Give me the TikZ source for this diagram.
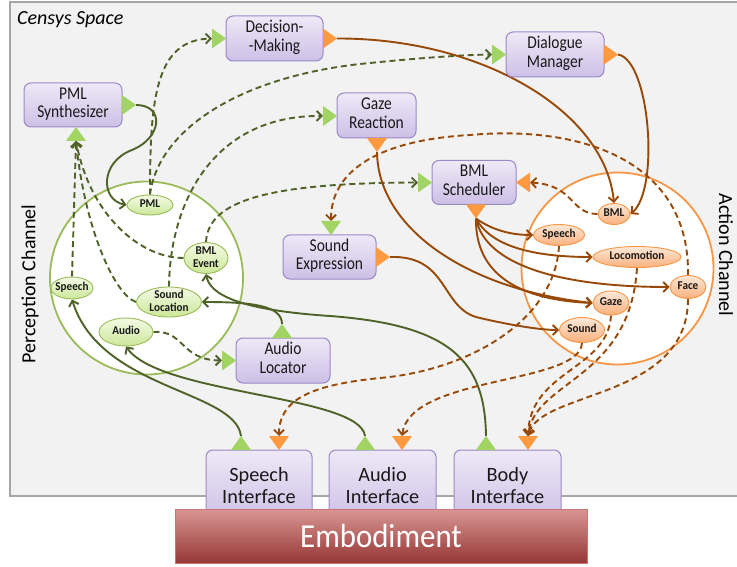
\documentclass[tikz,border=0pt]{standalone}
\usepackage{fontspec}
\usepackage{graphicx}
\setmainfont{Carlito}
\usetikzlibrary{arrows.meta,shapes.geometric}
\pgfdeclarelayer{bg}
\pgfdeclarelayer{lines}
\pgfsetlayers{bg,lines,main}
\definecolor{bgray}{HTML}{F2F2F2}
\definecolor{bframe}{HTML}{A6A6A6}
\definecolor{boxtop}{HTML}{EEE9F7}
\definecolor{boxbot}{HTML}{CDBFE6}
\definecolor{boxdraw}{HTML}{9B88C6}
\definecolor{gtop}{HTML}{F4FBE4}
\definecolor{gbot}{HTML}{CBE79A}
\definecolor{gdraw}{HTML}{9BBB59}
\definecolor{otop}{HTML}{FDE9D9}
\definecolor{obot}{HTML}{FAB07C}
\definecolor{odraw}{HTML}{F79646}
\definecolor{gline}{HTML}{4F6228}
\definecolor{oline}{HTML}{984807}
\definecolor{gport}{HTML}{A2D464}
\definecolor{oport}{HTML}{FF9A40}
\definecolor{etop}{HTML}{D99694}
\definecolor{ebot}{HTML}{953735}
\definecolor{edraw}{HTML}{C87472}
\newcommand\triR[3]{\fill[#1] (#2,#3-10) -- ++(14,10) -- ++(-14,10) -- cycle;}
\newcommand\triL[3]{\fill[#1] (#2,#3-10) -- ++(-14,10) -- ++(14,10) -- cycle;}
\newcommand\triU[3]{\fill[#1] (#2-10,#3) -- ++(10,-14) -- ++(10,14) -- cycle;}
\newcommand\triD[3]{\fill[#1] (#2-10,#3) -- ++(10,14) -- ++(10,-14) -- cycle;}
\newcommand\sqz[1]{\scalebox{0.86}[1]{\begin{tabular}{@{}c@{}}#1\end{tabular}}}
\newcommand\sqe[1]{\scalebox{0.93}[1]{\begin{tabular}{@{}c@{}}#1\end{tabular}}}
\tikzset{
  box/.style={rectangle, rounded corners=7pt, top color=boxtop, bottom color=boxbot,
    draw=boxdraw, line width=1pt, align=center, inner sep=0pt, text=black!90,
    font=\fontsize{18}{18.5}\selectfont},
  ifbox/.style={box, font=\fontsize{20.3}{22}\selectfont},
  gell/.style={ellipse, top color=gtop, bottom color=gbot, draw=gdraw, line width=0.9pt, inner sep=0pt},
  oell/.style={ellipse, top color=otop, bottom color=obot, draw=odraw, line width=0.9pt, inner sep=0pt},
  elab/.style={font=\fontsize{12}{13}\selectfont\bfseries, align=center, inner sep=0pt, text=black!90},
  gsol/.style={draw=gline, line width=1.9pt, -{Straight Barb[length=5pt,width=10pt]}},
  gdash/.style={gsol, dash pattern=on 6pt off 3.8pt},
  osol/.style={draw=oline, line width=1.9pt, -{Straight Barb[length=5pt,width=10pt]}},
  odash/.style={osol, dash pattern=on 6pt off 3.8pt},
  chan/.style={font=\fontsize{20}{22}\selectfont, inner sep=0pt}
}
\begin{document}
\begin{tikzpicture}[x=1pt,y=-1pt]
\useasboundingbox (0,0) rectangle (737,567);
\begin{pgfonlayer}{bg}
  \fill[bgray] (10,2) rectangle (737,496);
  \draw[bframe, line width=2pt] (737,2) -- (10,2) -- (10,496) -- (737,496);
  \node[circle, draw=gdraw, fill=white, line width=1.8pt, minimum size=193, inner sep=0pt] (pcirc) at (146.5,278) {};
  \node[circle, draw=odraw, fill=white, line width=1.8pt, minimum size=192, inner sep=0pt] (acirc) at (617.5,268.5) {};
\end{pgfonlayer}

\node[anchor=west, font=\fontsize{20}{22}\selectfont\itshape, inner sep=0pt] (title) at (17,20) {Censys Space};
\node[chan, rotate=90] (pch) at (30,284) {Perception Channel};
\node[chan, rotate=-90] (ach) at (726,255) {Action Channel};

% boxes
\node[box, minimum width=97, minimum height=45] (dm) at (274.5,38.5) {\sqz{Decision-\\-Making}};
\node[box, minimum width=98, minimum height=45] (dg) at (555,54.5) {\sqz{Dialogue\\Manager}};
\node[box, minimum width=98, minimum height=44] (ps) at (73,105) {\sqz{PML\\Synthesizer}};
\node[box, minimum width=79, minimum height=45] (gr) at (376.5,115.5) {\sqz{Gaze\\Reaction}};
\node[box, minimum width=84, minimum height=44] (bs) at (474,182.5) {\sqz{BML\\Scheduler}};
\node[box, minimum width=93, minimum height=44] (se) at (329.5,257) {\sqz{Sound\\Expression}};
\node[box, minimum width=94, minimum height=45] (al) at (283,360.5) {\sqz{Audio\\Locator}};
\node[ifbox, minimum width=106, minimum height=72] (si) at (259,486) {Speech\\Interface};
\node[ifbox, minimum width=107, minimum height=72] (ai) at (382.5,486) {Audio\\Interface};
\node[ifbox, minimum width=107, minimum height=72] (bi) at (507.5,486) {Body\\Interface};
\node[rectangle, top color=etop, bottom color=ebot, draw=edraw, line width=0.8pt,
  minimum width=412, minimum height=54, text=white, font=\fontsize{33.5}{36}\selectfont] (emb) at (381,536) {\scalebox{0.92}[1]{Embodiment}};

% perception ellipses
\node[gell, minimum width=46, minimum height=20, label={[elab]center:{\sqe{PML}}}] (pml) at (150,205) {};
\node[gell, minimum width=44, minimum height=31, label={[elab]center:{\sqe{BML\\Event}}}] (bmle) at (206,258) {};
\node[gell, minimum width=42, minimum height=22, label={[elab]center:{\sqe{Speech}}}] (spg) at (72,288) {};
\node[gell, minimum width=65, minimum height=30, label={[elab]center:{\sqe{Sound\\Location}}}] (sloc) at (169,302) {};
\node[gell, minimum width=54, minimum height=28, label={[elab]center:{\sqe{Audio}}}] (audio) at (126,332) {};
% action ellipses
\node[oell, minimum width=32, minimum height=21, label={[elab]center:{\sqe{BML}}}] (bmlo) at (614,214) {};
\node[oell, minimum width=51, minimum height=21, label={[elab]center:{\sqe{Speech}}}] (speecho) at (559,235) {};
\node[oell, minimum width=88, minimum height=21, label={[elab]center:{\sqe{Locomotion}}}] (loco) at (637,257) {};
\node[oell, minimum width=36, minimum height=23, label={[elab]center:{\sqe{Face}}}] (faceo) at (688,287) {};
\node[oell, minimum width=36, minimum height=24, label={[elab]center:{\sqe{Gaze}}}] (gazeo) at (611,303) {};
\node[oell, minimum width=45, minimum height=25, label={[elab]center:{\sqe{Sound}}}] (soundo) at (582,330) {};

% ports
\triR{gport}{212}{38.5}  \coordinate (dmIn) at (212,38.5);
\triR{oport}{323}{38.5}  \coordinate (dmOut) at (337,38.5);
\triR{gport}{492}{54.5}  \coordinate (dgIn) at (492,54.5);
\triR{oport}{604}{54.5}  \coordinate (dgOut) at (618,54.5);
\triR{gport}{122}{105}   \coordinate (psOut) at (136,105);
\triU{gport}{76}{141}    \coordinate (psIn) at (76,141);
\triR{gport}{323}{116}   \coordinate (grIn) at (323,116);
\triD{oport}{377}{138}   \coordinate (grOut) at (377,152);
\triR{gport}{418}{182.5} \coordinate (bsIn) at (418,182.5);
\triL{oport}{530}{182.5} \coordinate (bsBack) at (530,182.5);
\triD{oport}{476}{204.5} \coordinate (bsOut) at (476,218.5);
\triD{gport}{331}{221}   \coordinate (seIn) at (331,221);
\triR{oport}{376}{257}   \coordinate (seOut) at (390,257);
\triR{gport}{222}{360.5} \coordinate (alIn) at (222,360.5);
\triU{gport}{282}{338}   \coordinate (alOut) at (282,324);
\triU{gport}{241}{450}   \coordinate (siOut) at (241,436);
\triD{oport}{279}{436}   \coordinate (siIn) at (279,436);
\triU{gport}{365}{450}   \coordinate (aiOut) at (365,436);
\triD{oport}{402}{436}   \coordinate (aiIn) at (402,436);
\triU{gport}{486}{450}   \coordinate (biOut) at (486,436);
\triD{oport}{528}{436}   \coordinate (biIn) at (528,436);

\begin{pgfonlayer}{lines}
  % perception side
  \draw[gsol] (psOut) .. controls (165,105) and (162,138) .. (132,150) .. controls (100,162) and (100,200) .. (pml.west);
  \draw[gdash] (pml.north) .. controls (150,100) and (155,40) .. (dmIn);
  \draw[gdash] (pml.north) .. controls (158,130) and (240,75) .. (370,63) .. controls (420,58) and (460,55) .. (dgIn);
  \draw[gdash] (sloc.north) .. controls (170,200) and (215,115) .. (grIn);
  \draw[gdash] (bmle.north) .. controls (208,200) and (270,183) .. (bsIn);
  \draw[gdash] (spg.north) -- (psIn);
  \draw[gdash] (sloc.west) .. controls (115,295) and (85,230) .. (psIn);
  \draw[gdash] (bmle.west) .. controls (140,258) and (90,215) .. (psIn);
  \draw[gdash] (audio.east) .. controls (185,330) and (180,360) .. (alIn);
  \draw[gsol] (alOut) .. controls (282,305) and (250,302) .. (sloc.east);
  \draw[gsol] (siOut) .. controls (235,390) and (100,390) .. (spg.south);
  \draw[gsol] (aiOut) .. controls (360,395) and (160,395) .. (audio.south);
  \draw[gsol] (biOut) .. controls (485,360) and (450,325) .. (330,316) .. controls (240,310) and (210,295) .. (bmle.south);
  % action side
  \draw[osol] (dmOut) .. controls (480,38) and (605,110) .. (bmlo.north);
  \draw[osol] (dgOut) .. controls (650,60) and (660,190) .. (bmlo.east);
  \draw[osol] (grOut) .. controls (378,230) and (470,290) .. (gazeo.west);
  \draw[osol] (bsOut) .. controls (495,232) and (515,235) .. (speecho.west);
  \draw[osol] (bsOut) .. controls (490,245) and (530,257) .. (loco.west);
  \draw[osol] (bsOut) .. controls (485,265) and (560,287) .. (faceo.west);
  \draw[osol] (bsOut) .. controls (475,275) and (520,300) .. (gazeo.west);
  \draw[osol] (seOut) .. controls (450,255) and (440,310) .. (480,318) .. controls (510,325) and (540,330) .. (soundo.west);
  \draw[odash] (bmlo.west) .. controls (570,214) and (575,185) .. (bsBack);
  \draw[odash] (faceo.north) .. controls (690,160) and (580,125) .. (470,135) .. controls (380,140) and (331,170) .. (seIn);
  \draw[odash] (speecho.south) .. controls (555,320) and (470,370) .. (380,378) .. controls (310,385) and (279,400) .. (siIn);
  \draw[odash] (soundo.south) .. controls (580,385) and (410,375) .. (aiIn);
  \draw[odash] (gazeo.south) .. controls (608,370) and (530,370) .. (biIn);
  \draw[odash] (loco.south) .. controls (630,380) and (535,380) .. (biIn);
  \draw[odash] (faceo.south) .. controls (688,400) and (540,390) .. (biIn);
\end{pgfonlayer}
\end{tikzpicture}
\end{document}
